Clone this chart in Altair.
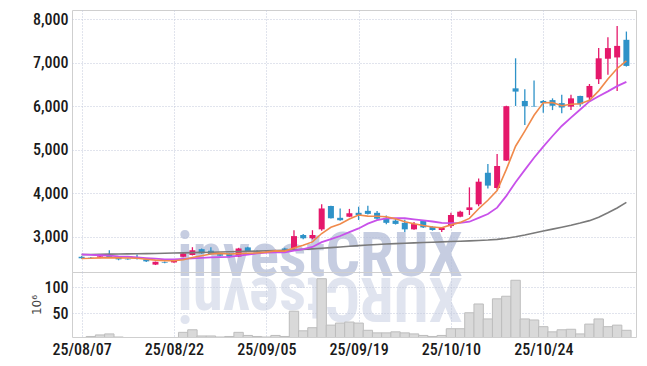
import json
import altair as alt
import pandas as pd

dates = ["25/08/07", "25/08/08", "25/08/11", "25/08/12", "25/08/13", "25/08/14", "25/08/18", "25/08/19",
         "25/08/20", "25/08/21", "25/08/22", "25/08/25", "25/08/26", "25/08/27", "25/08/28", "25/08/29",
         "25/09/01", "25/09/02", "25/09/03", "25/09/04", "25/09/05", "25/09/08", "25/09/09", "25/09/10",
         "25/09/11", "25/09/12", "25/09/15", "25/09/16", "25/09/17", "25/09/18", "25/09/19", "25/09/22",
         "25/09/23", "25/09/24", "25/09/25", "25/09/26", "25/09/29", "25/09/30", "25/10/01", "25/10/02",
         "25/10/10", "25/10/13", "25/10/14", "25/10/15", "25/10/16", "25/10/17", "25/10/20", "25/10/21",
         "25/10/22", "25/10/23", "25/10/24", "25/10/27", "25/10/28", "25/10/29", "25/10/30", "25/10/31",
         "25/11/03", "25/11/04", "25/11/05", "25/11/06"]

opens = [2540, 2520, 2520, 2580, 2530, 2495, 2500, 2480, 2360, 2420, 2410, 2540, 2580, 2715, 2680,
         2600, 2610, 2545, 2755, 2665, 2635, 2645, 2730, 2735, 3040, 2965, 3170, 3705, 3435, 3460,
         3550, 3595, 3550, 3435, 3370, 3320, 3170, 3370, 3230, 3155, 3245, 3460, 3615, 3745, 4470,
         4120, 4750, 6410, 6120, 6005, 6120, 6140, 6070, 5990, 6235, 6200, 6620, 7090, 7120, 7525]
highs = [2555, 2535, 2560, 2690, 2545, 2505, 2590, 2490, 2430, 2430, 2490, 2640, 2760, 2730, 2760,
         2620, 2625, 2745, 2770, 2690, 2670, 2700, 2745, 3150, 3065, 3150, 3745, 3710, 3650, 3640,
         3690, 3710, 3590, 3490, 3420, 3390, 3340, 3380, 3240, 3215, 3550, 3600, 4135, 4340, 4670,
         4900, 6010, 7100, 6390, 6590, 6140, 6180, 6260, 6260, 6240, 6510, 7335, 7585, 7845, 7715]
lows = [2495, 2495, 2505, 2510, 2460, 2470, 2480, 2420, 2350, 2390, 2400, 2530, 2570, 2610, 2590,
        2550, 2530, 2535, 2650, 2630, 2620, 2630, 2680, 2720, 2940, 2940, 3140, 3420, 3370, 3450,
        3385, 3510, 3390, 3290, 3280, 3110, 3160, 3200, 3140, 3110, 3200, 3450, 3500, 3700, 4110,
        4080, 4740, 6005, 5570, 5990, 5850, 5910, 5840, 5915, 5990, 6105, 6510, 6720, 6350, 6910]
closes = [2505, 2510, 2550, 2530, 2480, 2480, 2490, 2435, 2425, 2405, 2485, 2615, 2690, 2620, 2600,
          2565, 2545, 2730, 2660, 2645, 2655, 2690, 2700, 3015, 2965, 3040, 3650, 3425, 3380, 3540,
          3500, 3525, 3415, 3320, 3295, 3170, 3290, 3215, 3155, 3205, 3500, 3575, 3675, 4265, 4175,
          4625, 6000, 6335, 6000, 5995, 6070, 6010, 5970, 6180, 6045, 6465, 7100, 7335, 7385, 6925]

ma_short = [2500, 2505, 2515, 2520, 2515, 2510, 2505, 2483, 2462, 2447, 2448, 2473, 2524, 2563, 2602,
            2618, 2604, 2612, 2620, 2629, 2647, 2676, 2670, 2741, 2805, 2882, 3074, 3219, 3292, 3407,
            3499, 3474, 3472, 3460, 3411, 3345, 3298, 3258, 3225, 3207, 3273, 3330, 3422, 3644, 3838,
            4063, 4548, 5080, 5427, 5791, 6080, 6082, 6009, 6045, 6055, 6134, 6352, 6625, 6866, 7042]
ma_mid = [2595, 2585, 2575, 2565, 2550, 2540, 2525, 2510, 2495, 2481, 2479, 2490, 2504, 2513, 2525,
          2533, 2539, 2568, 2592, 2616, 2633, 2640, 2641, 2681, 2717, 2765, 2875, 2945, 3017, 3106,
          3191, 3300, 3380, 3420, 3430, 3425, 3400, 3375, 3350, 3320, 3315, 3320, 3345, 3435, 3523,
          3668, 3939, 4251, 4536, 4815, 5072, 5315, 5545, 5736, 5923, 6110, 6230, 6340, 6460, 6560]
ma_long = [2590, 2593, 2596, 2600, 2603, 2606, 2610, 2613, 2616, 2620, 2625, 2630, 2635, 2640, 2645,
           2650, 2655, 2660, 2665, 2670, 2677, 2684, 2691, 2700, 2710, 2722, 2735, 2750, 2765, 2780,
           2795, 2810, 2822, 2833, 2843, 2852, 2860, 2868, 2875, 2882, 2890, 2898, 2906, 2915, 2925,
           2940, 2965, 3000, 3040, 3085, 3130, 3175, 3220, 3265, 3315, 3370, 3450, 3550, 3660, 3790]

volume = [3, 5, 8, 10, 4, 2, 3, 3, 3, 2, 3, 13, 18, 6, 6, 4, 5, 13, 7, 5, 4, 7, 5, 54, 16, 22, 117, 27,
          31, 33, 31, 17, 12, 12, 14, 12, 10, 7, 5, 7, 20, 20, 51, 68, 39, 78, 83, 114, 39, 37, 24, 14,
          18, 19, 10, 29, 39, 24, 27, 17]

price_ticks = [3000, 4000, 5000, 6000, 7000, 8000]
volume_ticks = [50, 100]
label_idx = [0, 10, 20, 30, 40, 50]
watermark = "investCRUX"

df = pd.DataFrame({
    "i": list(range(len(dates))), "date": dates, "open": opens, "high": highs, "low": lows,
    "close": closes, "ma_short": ma_short, "ma_mid": ma_mid, "ma_long": ma_long, "volume": volume,
})

RED = "#e5186b"
BLUE = "#2e92c8"
GRID = "#c3c8da"
FONT = "Roboto Condensed, Liberation Sans Narrow, DejaVu Sans Condensed, sans-serif"
WM_FONT = "Roboto Condensed, Liberation Sans Narrow, Liberation Sans, sans-serif"

x_scale = alt.Scale(domain=[-0.5, len(dates) - 0.5], nice=False, zero=False)
label_expr = json.dumps(dates) + "[datum.value]"

x_price = alt.X("i:Q", scale=x_scale,
                axis=alt.Axis(values=label_idx, labels=False, ticks=False, domain=False,
                              grid=True, title=None))
y_scale = alt.Scale(domain=[2190, 8210], nice=False, zero=False)
candle_color = alt.condition("datum.close >= datum.open", alt.value(RED), alt.value(BLUE))

base = alt.Chart(df)

wm = alt.Chart(pd.DataFrame({"t": [watermark]})).mark_text(
    font=WM_FONT, fontSize=61, fontWeight="bold", align="center",
    baseline="alphabetic", color="#b3bdd8", opacity=0.75
).encode(text="t:N", x=alt.value(248), y=alt.value(266))

wm_ref = alt.Chart(pd.DataFrame({"t": [watermark[::-1]]})).mark_text(
    font=WM_FONT, fontSize=61, fontWeight="bold", align="center",
    baseline="alphabetic", color="#b3bdd8", opacity=0.4, angle=180
).encode(text="t:N", x=alt.value(248), y=alt.value(268))

wick = base.mark_rule(strokeWidth=1.3).encode(
    x=x_price,
    y=alt.Y("low:Q", scale=y_scale,
            axis=alt.Axis(values=price_ticks, format=",d", title=None, grid=True)),
    y2="high:Q",
    color=candle_color,
)
body = base.mark_bar(size=6).encode(
    x="i:Q", y="open:Q", y2="close:Q", color=candle_color
)
line_long = base.mark_line(color="#7a7a7a", strokeWidth=1.6).encode(x="i:Q", y="ma_long:Q")
line_mid = base.mark_line(color="#c851ea", strokeWidth=1.8).encode(x="i:Q", y="ma_mid:Q")
line_short = base.mark_line(color="#f08a4b", strokeWidth=1.6).encode(x="i:Q", y="ma_short:Q")

price = alt.layer(wm, wm_ref, wick, body, line_long, line_mid, line_short).properties(
    width=564, height=262)

vol = base.mark_bar(size=9.4, fill="#d9d9d9", stroke="#bdbdbd", strokeWidth=1, clip=True).encode(
    x=alt.X("i:Q", scale=x_scale,
            axis=alt.Axis(values=label_idx, labelExpr=label_expr, ticks=False, domain=False,
                          grid=True, title=None, labelPadding=4)),
    y=alt.Y("volume:Q", scale=alt.Scale(domain=[4, 130], nice=False, zero=False),
            axis=alt.Axis(values=volume_ticks, title="10\u2076", grid=True,
                          titleFont="DejaVu Sans", titleFontSize=12, titleFontWeight="normal",
                          titleColor="#444", titlePadding=1)),
    y2=alt.datum(0),
).properties(width=564, height=65)

chart = alt.vconcat(price, vol, spacing=0, bounds="flush").properties(
    padding={"left": 21, "top": 1, "right": 2, "bottom": 2}
).configure_view(stroke="#cfcfcf").configure_axis(
    labelFont=FONT, labelFontSize=16, labelFontWeight=500, labelColor="#1a1a1a", gridColor=GRID,
    gridDash=[1, 2], gridWidth=1, labelPadding=4, ticks=False, domain=False
)

chart.save("out.html", embed_options={"renderer": "svg", "actions": False})
